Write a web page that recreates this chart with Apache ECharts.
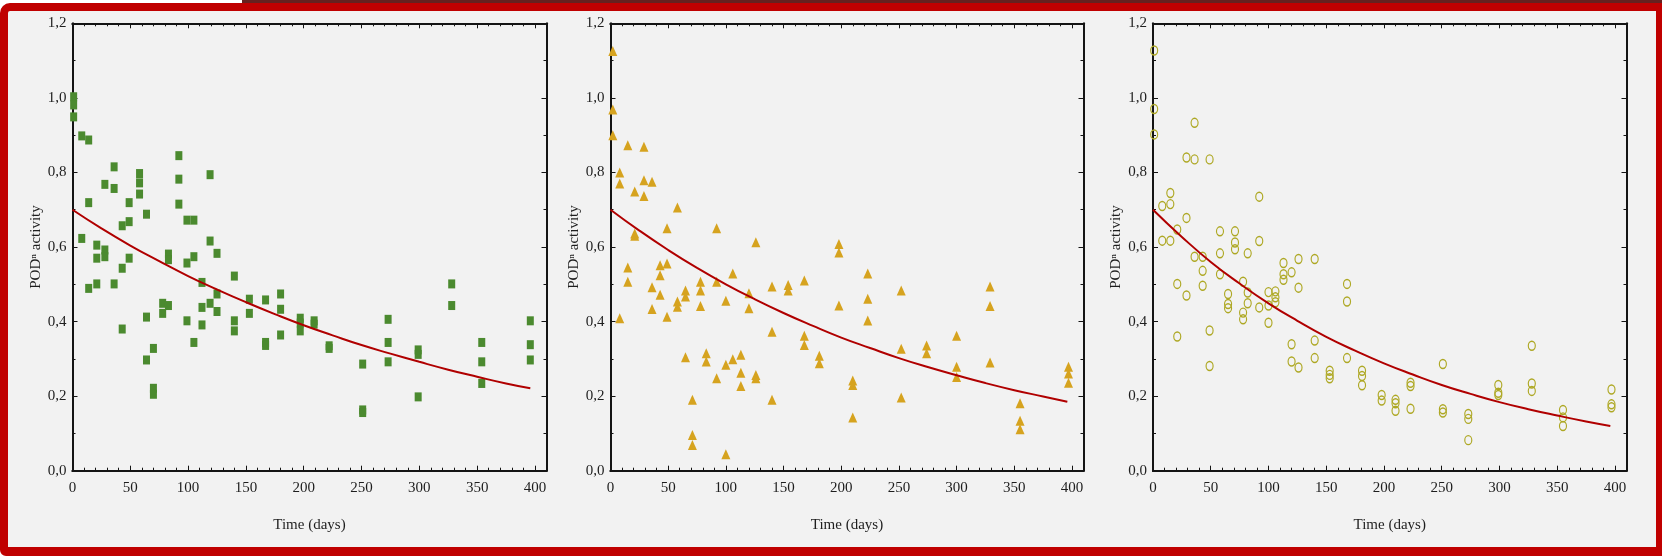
<!DOCTYPE html>
<html>
<head>
<meta charset="utf-8">
<title>POD activity over time</title>
<script src="https://cdn.jsdelivr.net/npm/echarts@6/dist/echarts.min.js"></script>
<style>
  html, body { margin: 0; padding: 0; width: 1662px; height: 556px; overflow: hidden; background: #ffffff; }
  #strip { position: absolute; left: 242px; top: 0; width: 1420px; height: 4px; background: #66211f; }
  #frame {
    position: absolute; left: 0; top: 3px; width: 1662px; height: 553px; box-sizing: border-box;
    border-style: solid; border-color: #c00000; border-width: 8px 6px 9px 8px;
    border-top-left-radius: 10px; border-bottom-left-radius: 6px; background: #f2f2f2;
  }
  #chart { position: absolute; left: 0; top: 0; width: 1662px; height: 556px; }
</style>
</head>
<body>
<div id="strip"></div>
<div id="frame"></div>
<div id="chart"></div>
<script>
// ---- Measurements: day of sampling and POD activity ----
const sqDays = [1, 1, 1, 8, 14, 14, 8, 28, 36, 36, 21, 21, 28, 28, 43, 43, 49, 49, 49, 58, 58, 58, 64, 83, 83,
  92, 92, 92, 99, 105, 99, 105, 112, 119, 119, 125, 140, 14, 21, 36, 43, 64, 64, 70, 70, 70, 78, 78, 83, 99,
  105, 112, 112, 119, 125, 125, 140, 140, 153, 153, 167, 167, 167, 180, 180, 180, 197, 197, 197, 209, 209,
  222, 222, 251, 251, 251, 273, 273, 273, 299, 299, 299, 328, 328, 354, 354, 354, 396, 396, 396];
const sqPOD = [1.003, 0.981, 0.949, 0.898, 0.887, 0.719, 0.623, 0.768, 0.815, 0.757, 0.605, 0.570, 0.592, 0.574,
  0.657, 0.543, 0.668, 0.719, 0.570, 0.797, 0.772, 0.742, 0.688, 0.581, 0.566, 0.845, 0.782, 0.715, 0.672,
  0.672, 0.557, 0.574, 0.505, 0.794, 0.616, 0.583, 0.522, 0.489, 0.501, 0.501, 0.380, 0.412, 0.297, 0.328,
  0.221, 0.205, 0.449, 0.422, 0.443, 0.402, 0.344, 0.438, 0.391, 0.449, 0.474, 0.427, 0.402, 0.375, 0.460,
  0.422, 0.458, 0.344, 0.336, 0.474, 0.433, 0.364, 0.409, 0.396, 0.375, 0.402, 0.393, 0.335, 0.328, 0.286,
  0.163, 0.156, 0.406, 0.344, 0.292, 0.324, 0.312, 0.198, 0.501, 0.443, 0.344, 0.292, 0.234, 0.402, 0.338,
  0.297];

const triDays = [2, 2, 2, 15, 29, 8, 8, 29, 36, 21, 29, 58, 21, 21, 49, 92, 126, 198, 198, 15, 43, 49, 43, 106,
  223, 8, 15, 36, 36, 43, 49, 58, 58, 65, 65, 65, 71, 71, 71, 78, 78, 78, 83, 83, 92, 92, 100, 100, 100, 106,
  113, 113, 113, 120, 120, 126, 126, 140, 140, 140, 154, 154, 168, 168, 168, 181, 181, 198, 210, 210, 210,
  223, 223, 252, 252, 252, 274, 274, 300, 300, 300, 329, 329, 329, 355, 355, 355, 397, 397, 397];
const triPOD = [1.126, 0.969, 0.900, 0.873, 0.869, 0.800, 0.770, 0.779, 0.775, 0.749, 0.737, 0.706, 0.636,
  0.630, 0.650, 0.650, 0.613, 0.608, 0.585, 0.545, 0.551, 0.556, 0.524, 0.529, 0.529, 0.409, 0.507, 0.492,
  0.434, 0.472, 0.413, 0.454, 0.440, 0.483, 0.467, 0.304, 0.190, 0.096, 0.069, 0.507, 0.483, 0.442, 0.315,
  0.293, 0.507, 0.248, 0.456, 0.284, 0.044, 0.299, 0.311, 0.263, 0.227, 0.476, 0.436, 0.257, 0.248, 0.494,
  0.373, 0.190, 0.498, 0.483, 0.510, 0.362, 0.337, 0.308, 0.288, 0.443, 0.242, 0.230, 0.143, 0.461, 0.403,
  0.483, 0.327, 0.196, 0.336, 0.315, 0.362, 0.279, 0.251, 0.494, 0.442, 0.290, 0.181, 0.134, 0.111, 0.279,
  0.261, 0.236];

const ringDays = [1, 1, 1, 36, 29, 36, 49, 15, 8, 15, 92, 29, 21, 8, 15, 58, 71, 71, 71, 92, 36, 43, 58, 82, 43,
  58, 113, 113, 120, 126, 140, 21, 21, 29, 43, 49, 49, 65, 65, 65, 78, 78, 78, 82, 82, 92, 100, 100, 100, 106,
  106, 106, 113, 120, 120, 126, 126, 140, 140, 153, 153, 153, 168, 168, 168, 181, 181, 181, 198, 198, 210,
  210, 210, 223, 223, 223, 251, 251, 251, 273, 273, 273, 299, 299, 299, 328, 328, 328, 355, 355, 355, 397,
  397, 397];
const ringPOD = [1.127, 0.970, 0.902, 0.933, 0.840, 0.835, 0.835, 0.745, 0.710, 0.715, 0.735, 0.678, 0.647,
  0.617, 0.617, 0.642, 0.642, 0.612, 0.594, 0.616, 0.574, 0.574, 0.583, 0.583, 0.536, 0.527, 0.557, 0.527,
  0.532, 0.568, 0.568, 0.501, 0.360, 0.470, 0.496, 0.376, 0.281, 0.474, 0.447, 0.436, 0.507, 0.424, 0.406,
  0.478, 0.449, 0.438, 0.479, 0.443, 0.397, 0.481, 0.465, 0.452, 0.512, 0.339, 0.293, 0.491, 0.277, 0.349,
  0.302, 0.268, 0.257, 0.248, 0.501, 0.454, 0.302, 0.268, 0.254, 0.229, 0.203, 0.188, 0.190, 0.181, 0.161,
  0.236, 0.227, 0.166, 0.286, 0.165, 0.156, 0.152, 0.139, 0.082, 0.230, 0.209, 0.203, 0.335, 0.234, 0.214,
  0.163, 0.143, 0.120, 0.218, 0.178, 0.170];

// ---- Fitted decay curves ----
const fitDays = [0, 25, 50, 75, 100, 125, 150, 175, 200, 225, 250, 275, 300, 325, 350, 375, 396];
const fitSq   = [0.700, 0.650, 0.604, 0.562, 0.522, 0.486, 0.452, 0.420, 0.390, 0.363, 0.337, 0.314, 0.292, 0.271, 0.252, 0.234, 0.221];
const fitTri  = [0.700, 0.644, 0.592, 0.544, 0.500, 0.460, 0.423, 0.389, 0.357, 0.329, 0.302, 0.278, 0.256, 0.235, 0.216, 0.199, 0.185];
const fitRing = [0.700, 0.627, 0.560, 0.502, 0.449, 0.402, 0.359, 0.322, 0.288, 0.258, 0.230, 0.206, 0.184, 0.165, 0.148, 0.132, 0.120];

// ---- Axis text ----
const xTitle = 'Time (days)';
const yTitle = 'POD\u207F activity';

const FONT = "'Liberation Serif', 'Times New Roman', serif";
const INK = '#141414';

const zip = (a, b) => a.map((v, i) => [v, b[i]]);

const panels = [
  { left: 72.5, width: 474, days: sqDays, pod: sqPOD, fit: fitSq,
    symbol: 'rect', size: [7, 9], item: { color: '#4b8a2f', opacity: 1 } },
  { left: 610.5, width: 473, days: triDays, pod: triPOD, fit: fitTri,
    symbol: 'triangle', size: [9, 10], item: { color: '#d6a31f', opacity: 1 } },
  { left: 1153, width: 473.5, days: ringDays, pod: ringPOD, fit: fitRing,
    symbol: 'circle', size: [7, 9],
    item: { color: 'rgba(0,0,0,0)', borderColor: '#aea824', borderWidth: 1.3, opacity: 1 } }
];

const grids = [], xAxes = [], yAxes = [], series = [];

panels.forEach((p, gi) => {
  grids.push({ left: p.left, top: 23.3, width: p.width, height: 447.4, containLabel: false });

  const xBase = (pos, interval, len, labels) => ({
    gridIndex: gi, type: 'value', position: pos, min: 0, max: 410, interval: interval,
    splitLine: { show: false },
    axisLine: { onZero: false, lineStyle: { color: INK, width: 2 } },
    axisTick: { inside: true, length: len, lineStyle: { color: INK, width: 1 } },
    axisLabel: labels ? {
      margin: 10, color: '#1e1e1e', fontSize: 15, fontFamily: FONT,
      formatter: v => (v % 50 === 0 ? String(v) : '')
    } : { show: false }
  });
  const xMain = xBase('bottom', 50, 5, true);
  xMain.name = xTitle;
  xMain.nameLocation = 'middle';
  xMain.nameGap = 47;
  xMain.nameTextStyle = { color: '#1e1e1e', fontSize: 15, fontFamily: FONT };
  xAxes.push(xMain, xBase('bottom', 10, 3, false), xBase('top', 50, 5, false), xBase('top', 10, 3, false));

  const yBase = (pos, labels) => ({
    gridIndex: gi, type: 'value', position: pos, min: 0, max: 1.2, interval: 0.2,
    splitLine: { show: false },
    axisLine: { onZero: false, lineStyle: { color: INK, width: 2 } },
    axisTick: { inside: true, length: 5, lineStyle: { color: INK, width: 1 } },
    minorTick: { show: true, splitNumber: 2, length: 3, lineStyle: { color: INK, width: 1 } },
    axisLabel: labels ? {
      margin: 6, color: '#1e1e1e', fontSize: 15, fontFamily: FONT,
      formatter: v => v.toFixed(1).replace('.', ',')
    } : { show: false }
  });
  const yMain = yBase('left', true);
  yMain.name = yTitle;
  yMain.nameLocation = 'middle';
  yMain.nameRotate = 90;
  yMain.nameGap = 29;
  yMain.nameTextStyle = { color: '#1e1e1e', fontSize: 15, fontFamily: FONT };
  yAxes.push(yMain, yBase('right', false));

  series.push({
    type: 'scatter', xAxisIndex: gi * 4, yAxisIndex: gi * 2,
    symbol: p.symbol, symbolSize: p.size, itemStyle: p.item,
    data: zip(p.days, p.pod), z: 2
  });
  series.push({
    type: 'line', xAxisIndex: gi * 4, yAxisIndex: gi * 2, smooth: true, showSymbol: false,
    lineStyle: { color: '#b00000', width: 2 }, data: zip(fitDays, p.fit), z: 3
  });
});

const chart = echarts.init(document.getElementById('chart'), null, { renderer: 'canvas' });
chart.setOption({
  animation: false,
  backgroundColor: 'transparent',
  textStyle: { fontFamily: FONT },
  grid: grids,
  xAxis: xAxes,
  yAxis: yAxes,
  series: series
});
</script>
</body>
</html>
